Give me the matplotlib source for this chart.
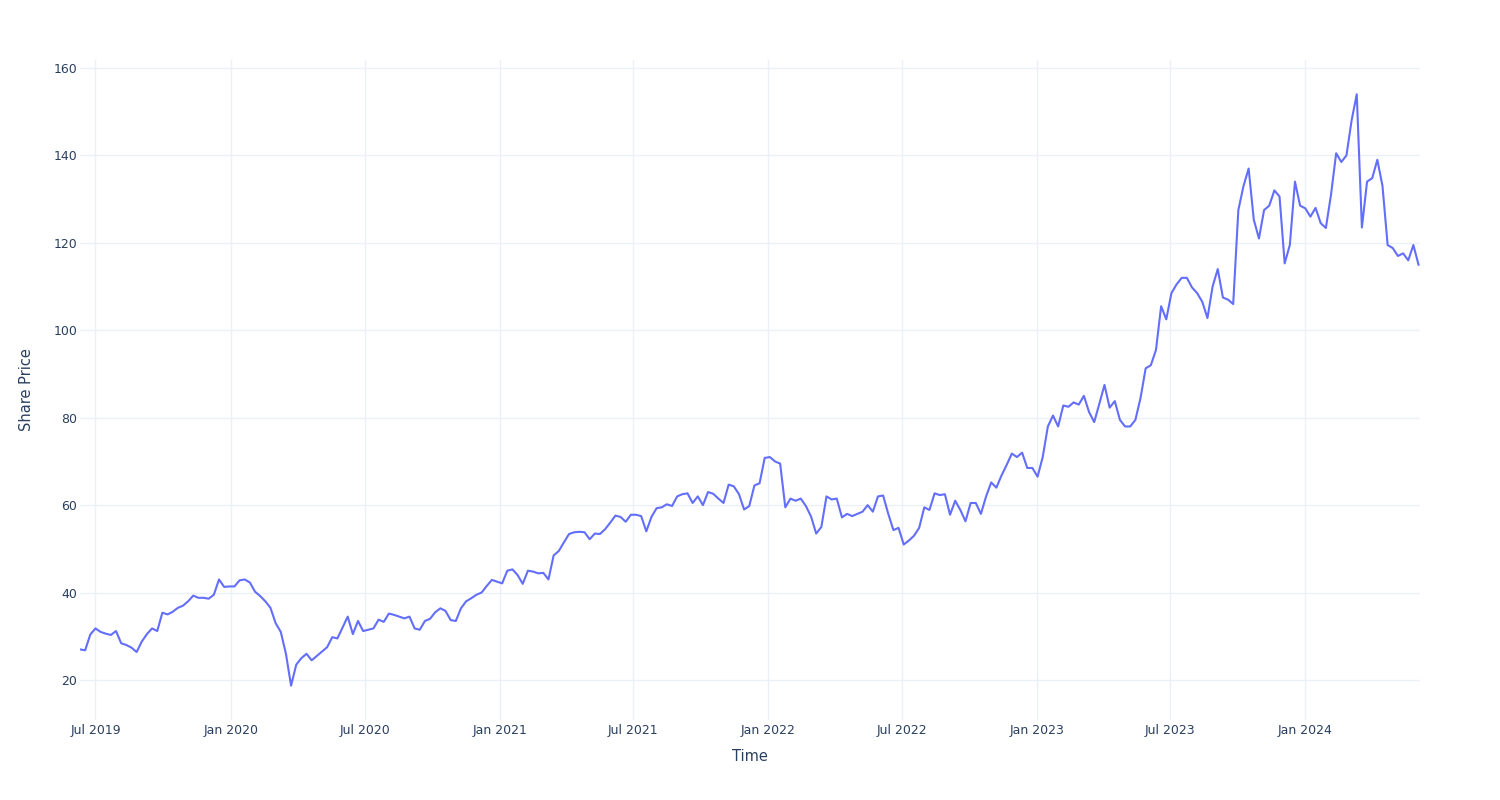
import matplotlib
matplotlib.use("Agg")
import matplotlib.pyplot as plt
import matplotlib.dates as mdates
import pandas as pd

# weekly closing prices (weeks starting Mon 10 Jun 2019)
price_2019 = [27.0, 26.8, 30.4, 31.8, 31.0, 30.6, 30.3, 31.2, 28.4, 28.0,
              27.4, 26.4, 28.8, 30.5, 31.8, 31.2, 35.4, 35.0, 35.6, 36.5,
              37.0, 38.0, 39.3, 38.8, 38.8, 38.6, 39.5, 43.0, 41.3, 41.4]
price_2020 = [41.4, 42.8, 43.0, 42.3, 40.2, 39.2, 38.0, 36.5, 33.0, 31.0,
              26.0, 18.7, 23.5, 25.0, 26.0, 24.5, 25.5, 26.5, 27.5, 29.8,
              29.5, 32.0, 34.5, 30.5, 33.5, 31.2, 31.5, 31.8, 33.8, 33.3,
              35.2, 34.9, 34.5, 34.1, 34.5, 31.8, 31.5, 33.5, 34.0, 35.5,
              36.4, 35.8, 33.7, 33.5, 36.4, 38.0, 38.7, 39.5, 40.0, 41.5,
              42.9, 42.5]
price_2021 = [42.1, 45.0, 45.3, 44.0, 42.0, 45.0, 44.8, 44.4, 44.5, 43.0,
              48.5, 49.5, 51.5, 53.4, 53.8, 53.9, 53.8, 52.2, 53.5, 53.4,
              54.5, 56.0, 57.6, 57.3, 56.2, 57.8, 57.8, 57.5, 54.0, 57.3,
              59.3, 59.5, 60.2, 59.8, 62.0, 62.5, 62.7, 60.5, 62.0, 60.0,
              63.0, 62.6, 61.5, 60.5, 64.7, 64.3, 62.5, 59.0, 59.8, 64.5,
              65.0, 70.8]
price_2022 = [71.0, 70.0, 69.5, 59.5, 61.5, 61.0, 61.5, 59.8, 57.4, 53.5,
              55.0, 62.0, 61.3, 61.5, 57.2, 58.0, 57.5, 58.0, 58.5, 60.0,
              58.5, 62.0, 62.2, 58.0, 54.3, 54.8, 51.0, 51.9, 53.0, 54.8,
              59.5, 58.9, 62.7, 62.3, 62.5, 57.8, 61.0, 58.9, 56.3, 60.5,
              60.5, 58.0, 62.0, 65.2, 64.0, 66.8, 69.2, 71.8, 71.0, 72.0,
              68.5, 68.5]
price_2023 = [66.5, 71.0, 78.0, 80.5, 78.0, 82.8, 82.5, 83.5, 83.0, 85.0,
              81.3, 79.0, 83.2, 87.5, 82.3, 83.8, 79.5, 78.0, 78.0, 79.5,
              84.5, 91.3, 92.0, 95.5, 105.5, 102.5, 108.5, 110.5, 112.0, 112.0,
              109.8, 108.5, 106.5, 102.8, 110.0, 114.0, 107.5, 107.0, 106.0, 127.5,
              133.0, 137.0, 125.3, 121.0, 127.5, 128.5, 132.0, 130.6, 115.3, 119.5,
              134.0, 128.5]
price_2024 = [127.9, 126.0, 128.0, 124.5, 123.4, 131.0, 140.5, 138.5, 140.0, 148.0,
              154.0, 123.5, 134.0, 134.8, 139.0, 133.0, 119.5, 118.8, 117.0, 117.6,
              116.0, 119.5, 115.0]

price = price_2019 + price_2020 + price_2021 + price_2022 + price_2023 + price_2024
dates = pd.date_range("2019-06-10", periods=len(price), freq="7D")

tick_dates = pd.to_datetime(["2019-07-01", "2020-01-01", "2020-07-01", "2021-01-01",
                             "2021-07-01", "2022-01-01", "2022-07-01", "2023-01-01",
                             "2023-07-01", "2024-01-01"])
y_ticks = [20, 40, 60, 80, 100, 120, 140, 160]

text_col = "#2a3f5f"
grid_col = "#ebf0f8"

plt.rcParams["font.family"] = ["DejaVu Sans"]
fig = plt.figure(figsize=(15, 8), dpi=100)
ax = fig.add_axes([80 / 1500, 80 / 800, 1340 / 1500, 660 / 800])

ax.plot(dates, price, color="#636efa", linewidth=1.5)

ax.set_xlim(dates[0], dates[-1] + pd.Timedelta(days=2))
ax.set_ylim(20 - 40 / 4.371, 160 + 8 / 4.371)
ax.set_xticks(tick_dates)
ax.xaxis.set_major_formatter(mdates.DateFormatter("%b %Y"))
ax.set_yticks(y_ticks)

ax.grid(True, color=grid_col, linewidth=1)
ax.set_axisbelow(True)
for s in ax.spines.values():
    s.set_visible(False)
ax.tick_params(axis="both", length=0, labelsize=9, labelcolor=text_col)
ax.tick_params(axis="x", pad=3)
ax.tick_params(axis="y", pad=2)

ax.set_xlabel("Time", fontsize=10.5, color=text_col)
ax.set_ylabel("Share Price", fontsize=10.5, color=text_col)
ax.xaxis.set_label_coords(0.5, -29 / 660)
ax.yaxis.set_label_coords(-46 / 1340, 0.5)

fig.savefig("out.png", dpi=100, facecolor="white")
